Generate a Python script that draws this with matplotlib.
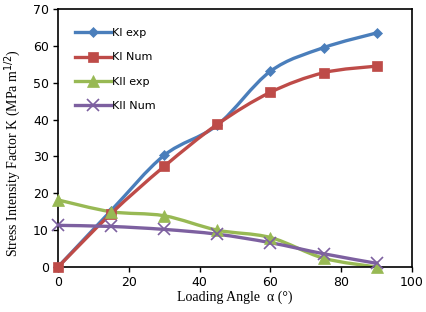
import numpy as np
import matplotlib
matplotlib.use('Agg')
import matplotlib.pyplot as plt
from matplotlib.path import Path
from matplotlib.patches import PathPatch
from matplotlib.lines import Line2D

# Données
angle = [0, 15, 30, 45, 60, 75, 90]
ki_exp = [0, 15.3, 30.3, 38.5, 53.1, 59.5, 63.5]
ki_num = [0, 14.5, 27.3, 38.7, 47.4, 52.7, 54.5]
kii_exp = [18.2, 15.0, 13.9, 10.0, 8.0, 2.4, 0]
kii_num = [11.3, 11.0, 10.2, 8.9, 6.6, 3.6, 1.0]

series = [
    ("KI exp", ki_exp, '#4A7EBB', 'D', 5.5),
    ("KI Num", ki_num, '#BE4B48', 's', 7),
    ("KII exp", kii_exp, '#98B954', '^', 8),
    ("KII Num", kii_num, '#7D60A0', 'x', 8),
]


def smooth_path(x, y):
    # courbe lissée façon tableur (Bézier cubique type Catmull-Rom)
    p = np.column_stack([x, y]).astype(float)
    n = len(p)
    verts = [p[0]]
    codes = [Path.MOVETO]
    for i in range(n - 1):
        p0 = p[i - 1] if i > 0 else p[i]
        p3 = p[i + 2] if i + 2 < n else p[i + 1]
        c1 = p[i] + (p[i + 1] - p0) / 6.0
        c2 = p[i + 1] - (p3 - p[i]) / 6.0
        verts += [c1, c2, p[i + 1]]
        codes += [Path.CURVE4] * 3
    return Path(verts, codes)


fig = plt.figure(figsize=(4.27, 3.12), dpi=100)
ax = fig.add_axes([0.1358, 0.1442, 0.8291, 0.827])

handles = []
for label, vals, color, marker, ms in series:
    ax.add_patch(PathPatch(smooth_path(angle, vals), facecolor='none',
                           edgecolor=color, lw=2.4, capstyle='round', zorder=2))
    mew = 1.2 if marker == 'x' else 0.5
    ax.plot(angle, vals, linestyle='none', marker=marker, ms=ms, color=color,
            mec=color, mew=mew, zorder=3, clip_on=False)
    handles.append(Line2D([], [], color=color, lw=2.4, marker=marker, ms=ms,
                          mew=mew, label=label))

ax.set_xlim(0, 100)
ax.set_ylim(0, 70)
ax.set_xticks(range(0, 101, 20))
ax.set_yticks(range(0, 71, 10))
ax.tick_params(direction='out', length=3.5, width=1, labelsize=9, pad=3)
for t in ax.get_xticklabels() + ax.get_yticklabels():
    t.set_fontfamily('DejaVu Sans')
for sp in ax.spines.values():
    sp.set_linewidth(1.2)
    sp.set_color('black')

ax.set_xlabel("Loading Angle  α (°)", family='Liberation Serif', fontsize=10, labelpad=1)
ax.set_ylabel("Stress Intensity Factor K (MPa m$^{1/2}$)", family='Liberation Serif',
              fontsize=10)
ax.yaxis.set_label_coords(-0.1, 0.44)

ax.legend(handles=handles, loc='upper left', bbox_to_anchor=(0.02, 0.965),
          frameon=False, labelspacing=1.3, handlelength=3.2,
          handletextpad=0.1, prop={'family': 'DejaVu Sans', 'size': 8})

plt.savefig('out.png', dpi=100)
plt.close()
